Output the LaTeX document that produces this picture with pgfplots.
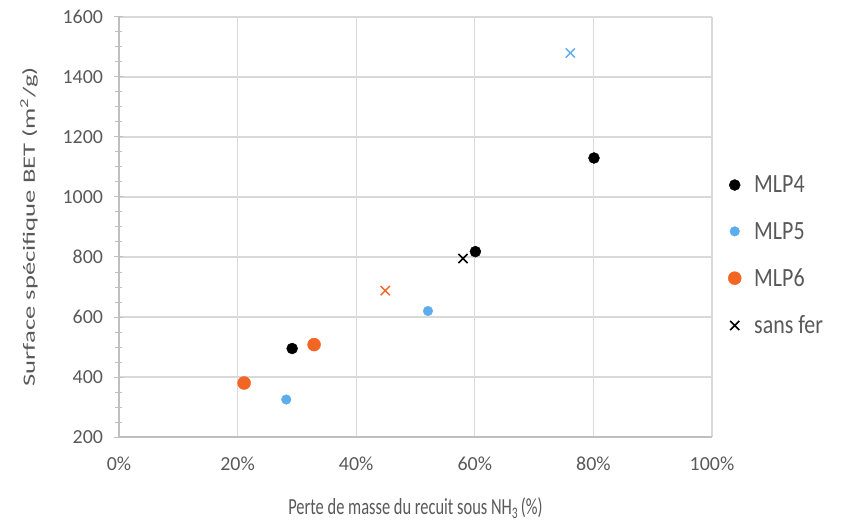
\documentclass[border=0pt]{standalone}
\usepackage{fontspec}
\setmainfont{Carlito}
\usepackage{graphicx}
\usepackage{pgfplots}
\pgfplotsset{compat=1.18}
\definecolor{txt}{HTML}{595959}
\definecolor{gridc}{HTML}{D9D9D9}
\definecolor{axc}{HTML}{BFBFBF}
\definecolor{mlpblue}{HTML}{5DADEC}
\definecolor{mlporange}{HTML}{F26522}
\newcommand{\legtxt}[1]{\scalebox{1}[1.2]{#1}}
\begin{document}
\begin{tikzpicture}
\path (-119bp,-87bp) rectangle (727bp,437bp);
\begin{axis}[
  at={(0,0)}, anchor=south west,
  scale only axis, width=593bp, height=420bp,
  xmin=0, xmax=100, ymin=200, ymax=1600,
  xtick={0,20,40,60,80,100},
  xticklabels={0\%,20\%,40\%,60\%,80\%,100\%},
  ytick={200,400,...,1600},
  minor y tick num=3,
  /pgf/number format/assume math mode=true,
  /pgf/number format/1000 sep={},
  grid=major,
  major grid style={gridc, line width=1.2bp},
  axis x line*=bottom, axis y line*=left,
  axis line style={axc, line width=1.2bp, -},
  x tick style={draw=none},
  y tick style={axc, line width=1bp},
  tick align=center,
  major tick length=9bp, minor tick length=7bp,
  ticklabel style={font=\fontsize{20}{24}\selectfont, text=txt},
  xticklabel style={yshift=-12bp},
  yticklabel style={xshift=-8bp},
  xlabel={\scalebox{1}[1.4]{Perte de masse du recuit sous NH\textsubscript{3}\,(\%)}},
  ylabel={\scalebox{1.62}[1.05]{Surface spécifique BET (m\textsuperscript{2}/g)}},
  label style={font=\fontsize{16.5}{20}\selectfont, text=txt},
  xlabel style={yshift=-20bp},
  ylabel style={yshift=18bp},
  legend style={draw=none, fill=none, at={(1.022,0.432)}, anchor=west,
    font=\fontsize{22}{26}\selectfont, text=txt, row sep=24bp,
    /tikz/every odd column/.append style={column sep=11bp}},
  legend cell align=left,
]
\addplot[only marks, mark=*, mark size=5.5bp, black]
  coordinates {(29.2,495) (60.1,818) (80.1,1130)};
\addlegendentry{\legtxt{MLP4}}
\addplot[only marks, mark=*, mark size=4.8bp, mlpblue, mark options={draw=mlpblue}]
  coordinates {(28.2,325) (52.1,620)};
\addlegendentry{\legtxt{MLP5}}
\addplot[only marks, mark=*, mark size=6.5bp, mlporange, mark options={draw=mlporange}]
  coordinates {(21.1,380) (32.9,508)};
\addlegendentry{\legtxt{MLP6}}
\addplot[only marks, mark=x, mark size=6.5bp, black, mark options={line width=1.5bp}]
  coordinates {(58.0,795)};
\addlegendentry{\legtxt{sans fer}}
\addplot[only marks, mark=x, mark size=6.5bp, mlpblue, mark options={line width=1.4bp}, forget plot]
  coordinates {(76.1,1480)};
\addplot[only marks, mark=x, mark size=6.5bp, mlporange, mark options={line width=1.4bp}, forget plot]
  coordinates {(44.9,688)};
\end{axis}
\end{tikzpicture}
\end{document}
